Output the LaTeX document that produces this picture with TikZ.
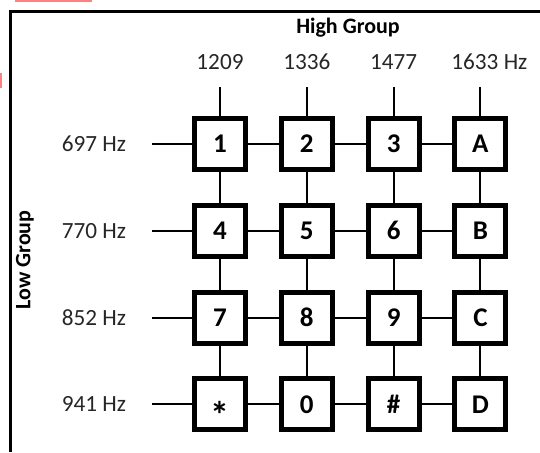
\documentclass[tikz,border=0pt]{standalone}
\usepackage{fontspec}
\setmainfont{Carlito}
\usepackage{tikz}
\usetikzlibrary{positioning}
\tikzstyle{key} = [draw, line width=2.5pt, minimum size=25.5pt, inner sep=0pt, font=\fontsize{13.5}{15}\selectfont\bfseries]
\tikzstyle{wire} = [line width=1pt]
\tikzstyle{freq} = [font=\fontsize{11.6}{13}\selectfont, text=black!85]
\tikzstyle{group} = [font=\fontsize{11}{13}\selectfont\bfseries]

\begin{document}
\begin{tikzpicture}[x=0.5pt, y=-0.5pt, node distance=43.4pt]
\useasboundingbox (0,0) rectangle (540,452);
% frame and red marks
\draw [line width=1.5pt] (10,452) -- (10,11) -- (540,11);
\fill [red!50] (15,0) rectangle (92,2);
\fill [red!50] (0,73) rectangle (2,88);

\node [key] (k1) at (220,144) {1};
\node [key] (k2) [right of=k1] {2};
\node [key] (k3) [right of=k2] {3};
\node [key] (kA) [right of=k3] {A};
\node [key] (k4) [below of=k1] {4};
\node [key] (k5) [right of=k4] {5};
\node [key] (k6) [right of=k5] {6};
\node [key] (kB) [right of=k6] {B};
\node [key] (k7) [below of=k4] {7};
\node [key] (k8) [right of=k7] {8};
\node [key] (k9) [right of=k8] {9};
\node [key] (kC) [right of=k9] {C};
\node [key, text height=9pt, text depth=0pt] (kS) [below of=k7] {\raisebox{-7.5pt}{\fontsize{19}{19}\selectfont *}};
\node [key] (k0) [right of=kS] {0};
\node [key] (kH) [right of=k0] {\#};
\node [key] (kD) [right of=kH] {D};

% frequencies
\node [group] (high) at (348,28) {High Group};
\node [group, rotate=90] (low) at (25,260) {Low Group};
\node [freq] (f1209) [above of=k1, node distance=41pt] {1209};
\node [freq] (f1336) [above of=k2, node distance=41pt] {1336};
\node [freq] (f1477) [above of=k3, node distance=41pt] {1477};
\node [freq] (f1633) [above of=kA, node distance=41pt, xshift=4.5pt] {1633 Hz};
\node [freq] (f697) [left of=k1, node distance=63pt] {697 Hz};
\node [freq] (f770) [left of=k4, node distance=63pt] {770 Hz};
\node [freq] (f852) [left of=k7, node distance=63pt] {852 Hz};
\node [freq] (f941) [left of=kS, node distance=63pt] {941 Hz};

\coordinate [above=28.5pt of k1.center] (t1);
\coordinate [above=28.5pt of k2.center] (t2);
\coordinate [above=28.5pt of k3.center] (t3);
\coordinate [above=28.5pt of kA.center] (tA);
\coordinate [left=34pt of k1.center] (s1);
\coordinate [left=34pt of k4.center] (s4);
\coordinate [left=34pt of k7.center] (s7);
\coordinate [left=34pt of kS.center] (sS);

\draw [wire] (t1) -- (k1);
\draw [wire] (t2) -- (k2);
\draw [wire] (t3) -- (k3);
\draw [wire] (tA) -- (kA);

\draw [wire] (s1) -- (k1);
\draw [wire] (s4) -- (k4);
\draw [wire] (s7) -- (k7);
\draw [wire] (sS) -- (kS);

\draw [wire] (k1) -- (k2);
\draw [wire] (k2) -- (k3);
\draw [wire] (k3) -- (kA);
\draw [wire] (k4) -- (k5);
\draw [wire] (k5) -- (k6);
\draw [wire] (k6) -- (kB);
\draw [wire] (k7) -- (k8);
\draw [wire] (k8) -- (k9);
\draw [wire] (k9) -- (kC);
\draw [wire] (kS) -- (k0);
\draw [wire] (k0) -- (kH);
\draw [wire] (kH) -- (kD);

\draw [wire] (k1) -- (k4);
\draw [wire] (k4) -- (k7);
\draw [wire] (k7) -- (kS);
\draw [wire] (k2) -- (k5);
\draw [wire] (k5) -- (k8);
\draw [wire] (k8) -- (k0);
\draw [wire] (k3) -- (k6);
\draw [wire] (k6) -- (k9);
\draw [wire] (k9) -- (kH);
\draw [wire] (kA) -- (kB);
\draw [wire] (kB) -- (kC);
\draw [wire] (kC) -- (kD);
\end{tikzpicture}
\end{document}
